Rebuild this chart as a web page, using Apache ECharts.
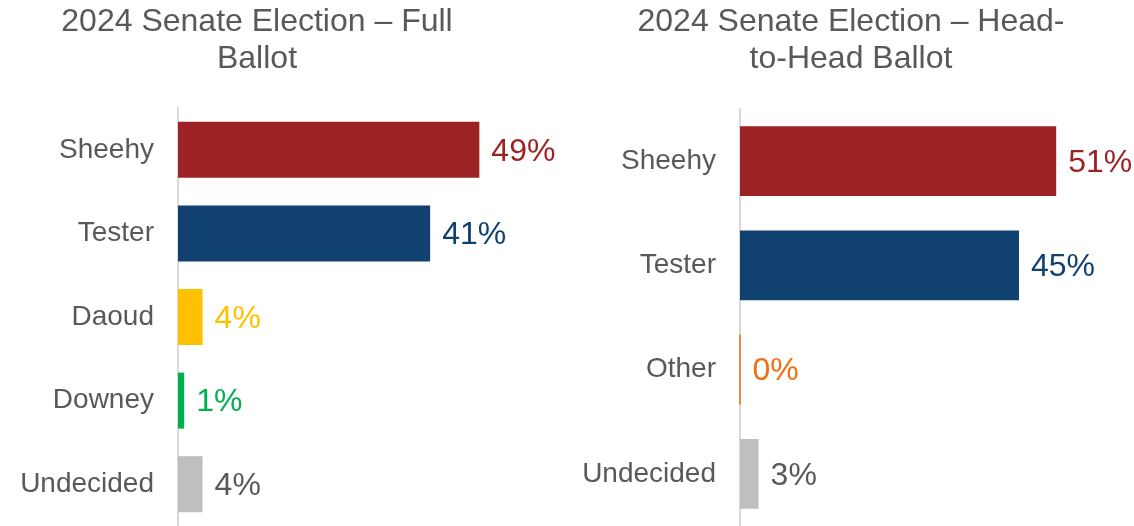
<!DOCTYPE html>
<html><head><meta charset="utf-8">
<script src="https://cdn.jsdelivr.net/npm/echarts@6/dist/echarts.min.js"></script>
<style>html,body{margin:0;padding:0;background:#fff}#c{width:1134px;height:526px}</style>
</head><body><div id="c"></div>
<script>
const leftTitle = '2024 Senate Election – Full\nBallot';
const rightTitle = '2024 Senate Election – Head-\nto-Head Ballot';
const leftCats = ['Sheehy', 'Tester', 'Daoud', 'Downey', 'Undecided'];
const leftVals = [49, 41, 4, 1, 4];
const leftColors = ['#9C2224', '#10416F', '#FFC000', '#00B050', '#BFBFBF'];
const leftLabelColors = ['#9C2224', '#10416F', '#FFC000', '#00B050', '#595959'];
const rightCats = ['Sheehy', 'Tester', 'Other', 'Undecided'];
const rightVals = [51, 45, 0, 3];
const rightColors = ['#9C2224', '#10416F', '#F07010', '#BFBFBF'];
const rightLabelColors = ['#9C2224', '#10416F', '#F07010', '#595959'];

const FONT = '"Liberation Sans", Arial, sans-serif';
function mkData(vals, colors, labelColors) {
  return vals.map((v, i) => ({
    value: v,
    itemStyle: { color: colors[i], borderColor: colors[i], borderWidth: v === 0 ? 1 : 0 },
    label: { color: labelColors[i] }
  }));
}
const chart = echarts.init(document.getElementById('c'));
const yAxisBase = {
  type: 'category', inverse: true,
  axisLine: { show: true, lineStyle: { color: '#D9D9D9', width: 2 } },
  axisTick: { show: false },
  axisLabel: { color: '#595959', fontSize: 28, fontFamily: FONT, margin: 24 }
};
const xAxisBase = { type: 'value', min: 0, max: 60, show: false };
const seriesBase = {
  type: 'bar', barCategoryGap: '33%', animation: false,
  label: { show: true, position: 'right', distance: 12, offset: [0, 2], fontSize: 32, fontFamily: FONT, formatter: '{c}%' }
};
const titleStyle = { color: '#595959', fontSize: 32, fontWeight: 'normal', fontFamily: FONT, lineHeight: 37 };
chart.setOption({
  animation: false,
  title: [
    { text: leftTitle, left: 252, top: -1, textAlign: 'center', textStyle: titleStyle },
    { text: rightTitle, left: 846, top: -1, textAlign: 'center', textStyle: titleStyle }
  ],
  grid: [
    { left: 178, top: 108, width: 369, height: 420 },
    { left: 740, top: 109, width: 372, height: 420 }
  ],
  xAxis: [Object.assign({ gridIndex: 0 }, xAxisBase), Object.assign({ gridIndex: 1 }, xAxisBase)],
  yAxis: [
    Object.assign({ gridIndex: 0, data: leftCats }, yAxisBase),
    Object.assign({ gridIndex: 1, data: rightCats }, yAxisBase)
  ],
  series: [
    Object.assign({}, seriesBase, { xAxisIndex: 0, yAxisIndex: 0, data: mkData(leftVals, leftColors, leftLabelColors) }),
    Object.assign({}, seriesBase, { xAxisIndex: 1, yAxisIndex: 1, data: mkData(rightVals, rightColors, rightLabelColors) })
  ]
});
</script></body></html>
